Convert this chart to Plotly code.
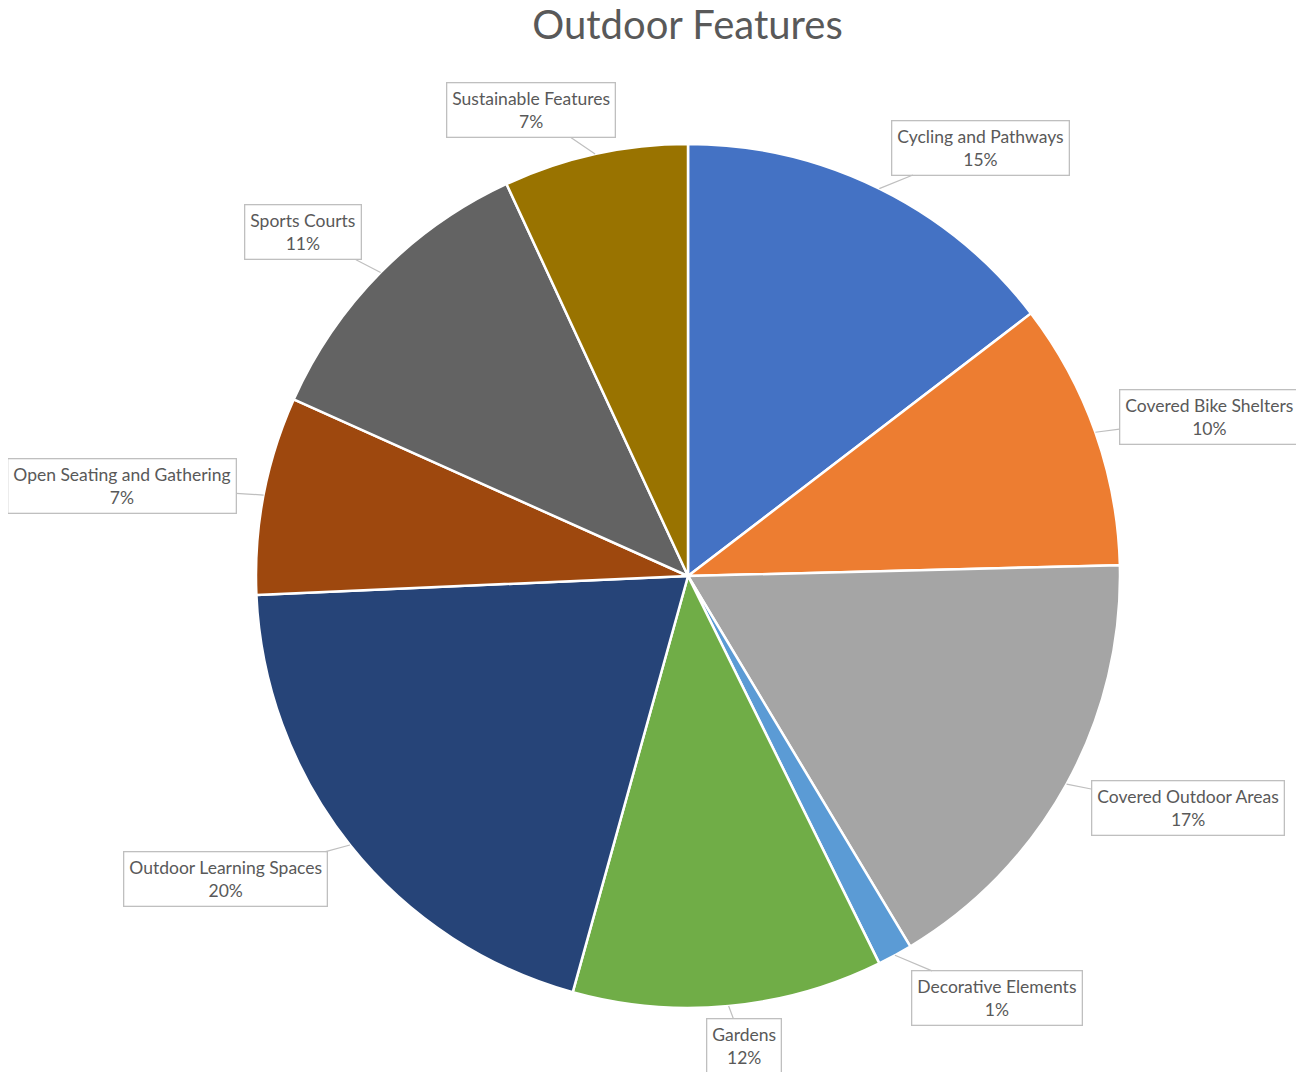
import math
import plotly.graph_objects as go

categories = ["Cycling and Pathways", "Covered Bike Shelters", "Covered Outdoor Areas",
              "Decorative Elements", "Gardens", "Outdoor Learning Spaces",
              "Open Seating and Gathering", "Sports Courts", "Sustainable Features"]
values = [14.6, 10.0, 16.8, 1.3, 11.6, 20.0, 7.4, 11.4, 6.9]
colors = ["#4472C4", "#ED7D31", "#A5A5A5", "#5B9BD5", "#70AD47", "#264478",
          "#9E480E", "#636363", "#997300"]
# callout box offsets (pixels) from slice tip
label_dx = [101, 114, 121, 102, 15, -125, -142, -78, -64]
label_dy = [-41, -15, 24, 43, 40, 34, -9, -40, -44]

W, H = 1304, 1072
PAGE = 8  # browser body margin
ML, MR, MT, MB = 256 - PAGE, 184 + PAGE, 144 - PAGE, 64 + PAGE
FONT = "Lato"
GRAY = "#595959"

fig = go.Figure(go.Pie(
    labels=categories, values=values, sort=False, direction="clockwise", rotation=0,
    marker=dict(colors=colors, line=dict(color="white", width=2.5)),
    textinfo="none", hoverinfo="label+percent", showlegend=False,
    domain=dict(x=[0, 1], y=[0, 1]),
))

total = sum(values)
cum = 0.0
annotations = []
for cat, v, dx, dy in zip(categories, values, label_dx, label_dy):
    mid = (cum + v / 2) / total * 2 * math.pi
    cum += v
    px = 0.5 + 0.5 * math.sin(mid)
    py = 0.5 + 0.5 * math.cos(mid)
    annotations.append(dict(
        x=px, y=py, xref="paper", yref="paper",
        ax=dx, ay=dy, axref="pixel", ayref="pixel",
        text=f"{cat}<br>{round(v / total * 100)}%",
        showarrow=True, arrowhead=0, arrowwidth=1.2, arrowcolor="#bfbfbf",
        standoff=0, startstandoff=0,
        font=dict(family=FONT, size=17.5, color=GRAY),
        bgcolor="white", bordercolor="#bfbfbf", borderwidth=1.3, borderpad=5,
        align="center",
    ))

fig.update_layout(
    width=W, height=H,
    margin=dict(l=ML, r=MR, t=MT, b=MB),
    paper_bgcolor="white", plot_bgcolor="white",
    title=dict(text="Outdoor Features", x=(687.5 - PAGE) / W, xanchor="center",
               y=1 - 3 / H, yanchor="top", yref="container", pad=dict(t=0, b=0, l=0, r=0),
               font=dict(family=FONT, size=40, color=GRAY)),
    annotations=annotations,
)

fig.write_html("out.html")
